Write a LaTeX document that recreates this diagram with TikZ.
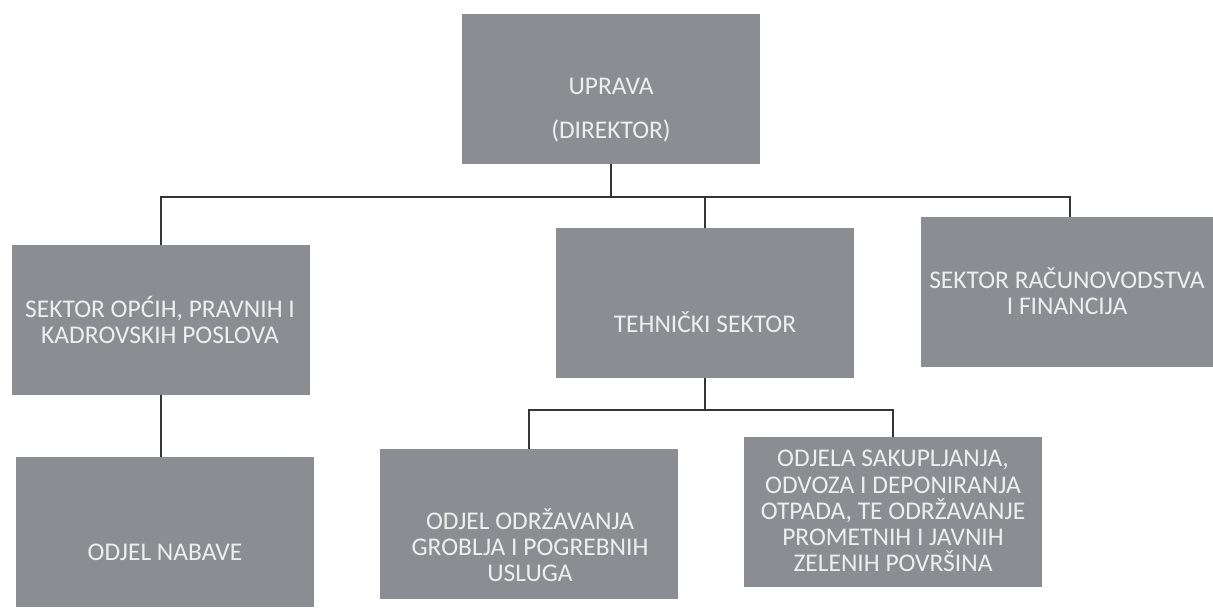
\documentclass[tikz,border=0pt]{standalone}
\usepackage{fontspec}
\setmainfont{Carlito}
\definecolor{boxgray}{HTML}{8B8D92}
\definecolor{linegray}{HTML}{353535}
\definecolor{txtwhite}{HTML}{EEEEEE}
\tikzset{
  orgbox/.style={rectangle, fill=boxgray, draw=none, minimum width=5.98cm, minimum height=3cm, inner sep=0pt, outer sep=0pt},
  orgtext/.style={text=txtwhite, align=center, inner sep=0pt, font=\fontsize{14.5}{14.9}\selectfont},
  conn/.style={draw=linegray, line width=1.3pt}
}
\begin{document}
\begin{tikzpicture}[x=0.02cm, y=-0.02cm]
\useasboundingbox[fill=white] (0,0) rectangle (1213,610);
\clip (0,0) rectangle (1213,610);
% boxes
\node[orgbox] (upr) at (611,89) {};
\node[orgbox] (sek) at (161,320) {};
\node[orgbox] (teh) at (705,303) {};
\node[orgbox] (rac) at (1070,292) {};
\node[orgbox] (nab) at (165,532) {};
\node[orgbox] (odr) at (529,524) {};
\node[orgbox] (sak) at (893,512) {};
% texts
\node[orgtext] (uprt) at (611,110) {UPRAVA\\[10pt](DIREKTOR)};
\node[orgtext] (sekt) at (160,320) {SEKTOR OPĆIH, PRAVNIH I\\KADROVSKIH POSLOVA};
\node[orgtext] (teht) at (705,322) {TEHNIČKI SEKTOR};
\node[orgtext] (ract) at (1067,291) {SEKTOR RAČUNOVODSTVA\\I FINANCIJA};
\node[orgtext] (nabt) at (165,552) {ODJEL NABAVE};
\node[orgtext] (odrt) at (530,545) {ODJEL ODRŽAVANJA\\GROBLJA I POGREBNIH\\USLUGA};
\node[orgtext] (sakt) at (893,511) {ODJELA SAKUPLJANJA,\\ODVOZA I DEPONIRANJA\\OTPADA, TE ODRŽAVANJE\\PROMETNIH I JAVNIH\\ZELENIH POVRŠINA};
% connectors
\coordinate (bus) at (0,197);
\coordinate (sub) at (0,410);
\draw[conn] (upr.south) -- (upr.south |- bus);
\draw[conn] (sek.north) |- (rac.north |- bus) -- (rac.north);
\draw[conn] (teh.north) -- (teh.north |- bus);
\draw[conn] (sek.south) -- (sek.south |- nab.north);
\draw[conn] (teh.south) -- (teh.south |- sub);
\draw[conn] (odr.north) |- (sak.north |- sub) -- (sak.north);
\end{tikzpicture}
\end{document}
